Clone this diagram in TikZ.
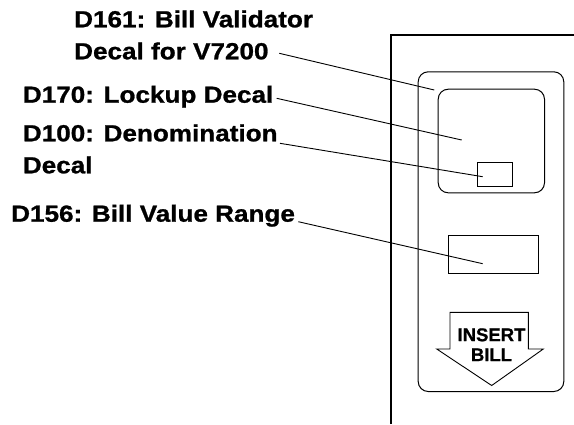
\documentclass[tikz,border=0pt]{standalone}
\usepackage{fontspec}
\setmainfont{Liberation Sans}
\newfontfamily\decalfont{Liberation Sans Bold}[FakeStretch=1.12, FakeBold=1]
\newfontfamily\arrowfont{Liberation Sans Bold}[FakeBold=0.8]
\usetikzlibrary{positioning}

\begin{document}
\begin{tikzpicture}[
    x=1pt, y=-1pt,
    decal/.style={anchor=base west, align=left, inner sep=0pt, font=\decalfont\fontsize{23.3}{32}\selectfont},
    panel/.style={draw, line width=1pt, rounded corners=10pt, anchor=north west, inner sep=0pt},
    window/.style={draw, line width=0.9pt, anchor=north west, inner sep=0pt},
    leader/.style={line width=0.9pt}
]
    \useasboundingbox (0,0) rectangle (574,424);

    % Door frame
    \draw[line width=2pt] (391,424) -- (391,34.5) -- (574,34.5);

    % Bezel and decal windows
    \node (bezel) [panel, minimum width=145.6pt, minimum height=319.7pt] at (417.7,71.3) {};
    \node (lockup) [panel, minimum width=106.3pt, minimum height=103.6pt] at (437.7,88.7) {};
    \node (denom) [window, minimum width=34.7pt, minimum height=24.6pt] at (477,161.7) {};
    \node (range) [window, minimum width=89.7pt, minimum height=38pt] at (448,234.7) {};

    % Insert bill arrow
    \draw[line width=0.9pt] (450,312.3) -- (528.3,312.3) -- (528.3,349) -- (543.3,349)
        -- (491.7,385.5) -- (436.7,349) -- (450,349) -- cycle;
    \node (insert) [font=\arrowfont\fontsize{18.5}{20}\selectfont, align=center, inner sep=0pt] at (491.5,344.7) {INSERT\\BILL};

    % Labels (base anchor sits on the last line)
    \node (d161) [decal] at (74,59.3) {D161: Bill Validator\\Decal for V7200};
    \node (d170) [decal] at (22.7,102.7) {D170: Lockup Decal};
    \node (d100) [decal] at (22.7,173.3) {D100: Denomination\\Decal};
    \node (d156) [decal] at (11,221.7) {D156: Bill Value Range};

    % Leader lines
    \coordinate (s161) at (279.3,53.3);
    \coordinate (p161) at (434.3,90);
    \coordinate (s170) at (276.7,98.3);
    \coordinate (p170) at (461.7,140);
    \coordinate (s100) at (280,143.3);
    \coordinate (p100) at (482.7,176.7);
    \coordinate (s156) at (298.3,221.7);
    \coordinate (p156) at (482.7,263.7);
    \draw[leader] (s161) -- (p161);
    \draw[leader] (s170) -- (p170);
    \draw[leader] (s100) -- (p100);
    \draw[leader] (s156) -- (p156);
\end{tikzpicture}
\end{document}
